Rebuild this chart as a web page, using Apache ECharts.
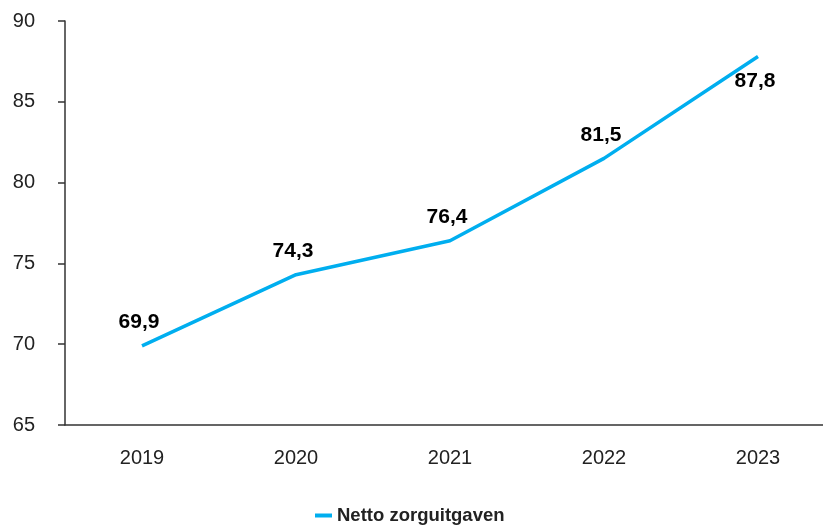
<!DOCTYPE html>
<html>
<head>
<meta charset="utf-8">
<script src="https://cdn.jsdelivr.net/npm/echarts@6/dist/echarts.min.js"></script>
<style>
  html, body { margin: 0; padding: 0; background: #fff; overflow: hidden; }
  #chart { width: 835px; height: 531px; }
</style>
</head>
<body>
<div id="chart"></div>
<script>
// data
const years = ['2019', '2020', '2021', '2022', '2023'];
const nettoZorg = [69.9, 74.3, 76.4, 81.5, 87.8];
const yTicks = [65, 70, 75, 80, 85, 90];

const font = '"Liberation Sans", Arial, sans-serif';
const chart = echarts.init(document.getElementById('chart'));

chart.setOption({
  animation: false,
  grid: { left: 65, right: 0, top: 21, bottom: 106 },
  legend: {
    bottom: 1,
    left: 310,
    itemWidth: 17,
    itemHeight: 4,
    itemGap: 10,
    icon: 'rect',
    textStyle: { fontFamily: font, fontSize: 18.5, fontWeight: 'bold', color: '#222' },
    data: ['Netto zorguitgaven']
  },
  xAxis: {
    type: 'category',
    data: years,
    boundaryGap: true,
    axisLine: { lineStyle: { color: '#333', width: 1.5 } },
    axisTick: { show: false },
    axisLabel: { fontFamily: font, fontSize: 20, color: '#222', margin: 23 }
  },
  yAxis: {
    type: 'value',
    min: yTicks[0],
    max: yTicks[yTicks.length - 1],
    interval: 5,
    splitLine: { show: false },
    axisLine: { show: true, lineStyle: { color: '#333', width: 1.5 } },
    axisTick: { show: true, length: 7, lineStyle: { color: '#333', width: 1.5 } },
    axisLabel: { fontFamily: font, fontSize: 20, color: '#222', margin: 30 }
  },
  series: [{
    name: 'Netto zorguitgaven',
    type: 'line',
    data: nettoZorg.map((v, i) => ({
      value: v,
      label: i === nettoZorg.length - 1 ? { position: 'bottom', distance: 14 } : undefined
    })),
    symbol: 'circle',
    symbolSize: 0,
    showSymbol: true,
    lineStyle: { color: '#00aeef', width: 3.5 },
    itemStyle: { color: '#00aeef' },
    label: {
      show: true,
      position: 'top',
      distance: 13,
      offset: [-3, 0],
      fontFamily: font,
      fontSize: 21,
      fontWeight: 'bold',
      color: '#000',
      formatter: p => String(p.value).replace('.', ',')
    }
  }]
});
</script>
</body>
</html>
